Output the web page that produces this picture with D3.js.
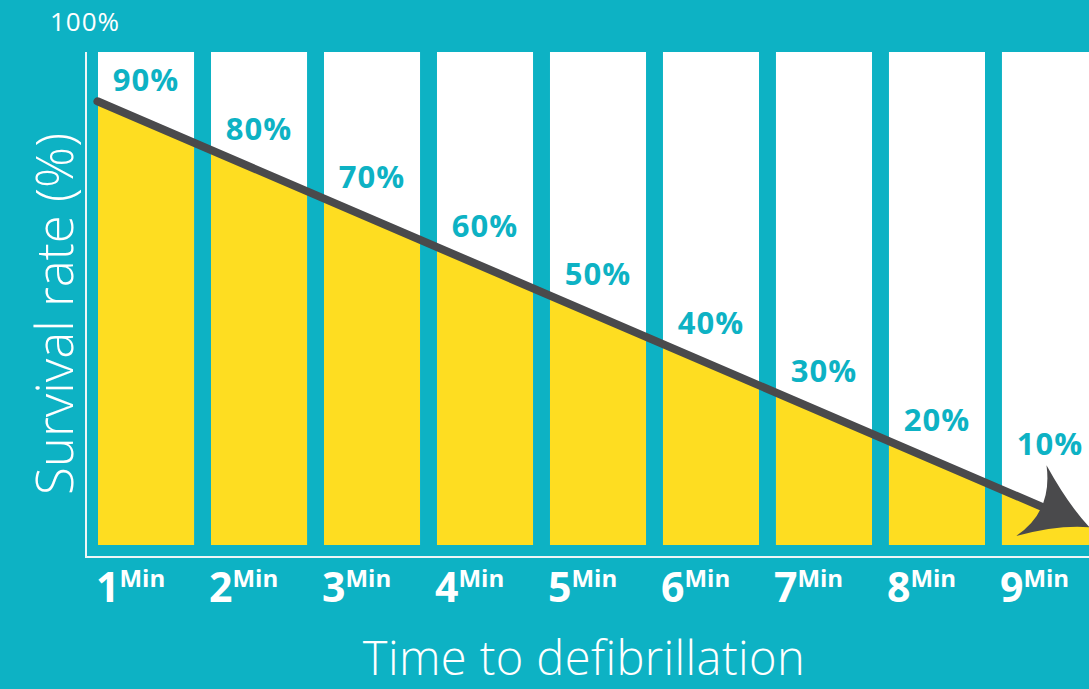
<!DOCTYPE html>
<html>
<head>
<meta charset="utf-8">
<script src="https://cdn.jsdelivr.net/npm/d3@7"></script>
<style>
  body { margin: 0; background: #0db2c4; overflow: hidden; }
  svg { display: block; }
</style>
</head>
<body>
<div id="chart"></div>
<script>
// minutes until defibrillation and survival rate
const minutes = [1, 2, 3, 4, 5, 6, 7, 8, 9]
const survival = [90, 80, 70, 60, 50, 40, 30, 20, 10]
// trend arrow, in minutes (relative to column centres) and percent
const trendMin = [0.57, 9.35]
const trendPct = [90, 3.6]
const yTicks = [100]

const width = 1089
const height = 689
const teal = '#0db2c4'
const yellow = '#fedd21'
const dark = '#4a4a4c'

const svg = d3.select('#chart').append('svg')
    .attr('width', width)
    .attr('height', height)

svg.append('rect').attr('width', width).attr('height', height).attr('fill', teal)

// columns run a little past the right edge, like the original
const x = d3.scaleBand()
    .domain(minutes)
    .range([98, 1098])
    .paddingInner(0.15)
    .paddingOuter(0)

const y = d3.scaleLinear()
    .domain([0, 100])
    .range([545, 52])

// linear minute scale through the column centres, for the trend line
const xm = d3.scaleLinear()
    .domain([1, 9])
    .range([x(1) + x.bandwidth() / 2, x(9) + x.bandwidth() / 2])

const trend = d3.scaleLinear().domain(trendMin).range(trendPct)

// white columns
svg.append('g')
    .selectAll('rect')
    .data(minutes)
    .enter()
    .append('rect')
    .attr('x', d => x(d))
    .attr('y', y(100))
    .attr('width', x.bandwidth())
    .attr('height', y(0) - y(100))
    .attr('fill', '#fff')

// clip yellow fill to the columns
const clip = svg.append('defs').append('clipPath').attr('id', 'cols')
clip.selectAll('rect')
    .data(minutes)
    .enter()
    .append('rect')
    .attr('x', d => x(d))
    .attr('y', y(100))
    .attr('width', x.bandwidth())
    .attr('height', y(0) - y(100))

const trendPts = trendMin.map((m, i) => [m, trendPct[i]])

const area = d3.area()
    .x(d => xm(d[0]))
    .y0(y(0))
    .y1(d => y(d[1]))

svg.append('path')
    .datum(trendPts)
    .attr('d', area)
    .attr('fill', yellow)
    .attr('clip-path', 'url(#cols)')

// axis lines
svg.append('line')
    .attr('x1', 86).attr('x2', 86)
    .attr('y1', y(100)).attr('y2', 557)
    .attr('stroke', '#eef6f7').attr('stroke-width', 2)
svg.append('line')
    .attr('x1', 85).attr('x2', width)
    .attr('y1', 557).attr('y2', 557)
    .attr('stroke', '#eef6f7').attr('stroke-width', 2)

// trend arrow
const p0 = [xm(trendMin[0]), y(trendPct[0])]
const p1 = [xm(trendMin[1]), y(trendPct[1])]
const ang = Math.atan2(p1[1] - p0[1], p1[0] - p0[0])
const headLen = 64
const shaftEnd = [p1[0] - Math.cos(ang) * (headLen - 22), p1[1] - Math.sin(ang) * (headLen - 22)]

svg.append('line')
    .attr('x1', p0[0]).attr('y1', p0[1])
    .attr('x2', shaftEnd[0]).attr('y2', shaftEnd[1])
    .attr('stroke', dark)
    .attr('stroke-width', 8)
    .attr('stroke-linecap', 'round')

svg.append('path')
    .attr('d', `M0,0 Q-28,-12 -${headLen},-40 Q-40,0 -${headLen},37 Q-30,10 0,0 Z`)
    .attr('fill', dark)
    .attr('transform', `translate(${p1[0]},${p1[1]}) rotate(${ang * 180 / Math.PI})`)

// value labels, above the trend line
svg.append('g')
    .selectAll('text')
    .data(minutes)
    .enter()
    .append('text')
    .attr('x', d => x(d) + x.bandwidth() / 2)
    .attr('y', (d, i) => y(trend(d)) - (i === minutes.length - 1 ? 55 : 31))
    .attr('text-anchor', 'middle')
    .attr('font-family', 'Open Sans, sans-serif')
    .attr('font-weight', 700)
    .attr('font-size', 31)
    .attr('letter-spacing', 1)
    .attr('fill', teal)
    .text((d, i) => survival[i] + '%')

// x tick labels with superscript "Min"
const ticks = svg.append('g')
    .selectAll('text')
    .data(minutes)
    .enter()
    .append('text')
    .attr('x', d => x(d) - 2)
    .attr('y', 602)
    .attr('font-family', 'Open Sans, sans-serif')
    .attr('font-weight', 700)
    .attr('fill', '#fff')
ticks.append('tspan')
    .attr('font-size', 41)
    .text(d => d)
ticks.append('tspan')
    .attr('font-size', 24)
    .attr('dy', -15)
    .text('Min')

// top tick
svg.selectAll('.ytick')
    .data(yTicks)
    .enter()
    .append('text')
    .attr('class', 'ytick')
    .attr('x', 85)
    .attr('y', d => y(d) - 21)
    .attr('text-anchor', 'middle')
    .attr('font-family', 'Open Sans, sans-serif')
    .attr('font-size', 26)
    .attr('letter-spacing', 1)
    .attr('fill', '#fff')
    .text(d => d + '%')

// axis titles
svg.append('text')
    .attr('transform', `translate(73,314) rotate(-90)`)
    .attr('text-anchor', 'middle')
    .attr('font-family', 'Open Sans, sans-serif')
    .attr('font-weight', 300)
    .attr('font-size', 51)
    .attr('fill', '#fff')
    .text('Survival rate (%)')

svg.append('text')
    .attr('x', 584)
    .attr('y', 675)
    .attr('text-anchor', 'middle')
    .attr('font-family', 'Open Sans, sans-serif')
    .attr('font-weight', 300)
    .attr('font-size', 47)
    .attr('letter-spacing', 0.4)
    .attr('fill', '#fff')
    .text('Time to defibrillation')
</script>
</body>
</html>
